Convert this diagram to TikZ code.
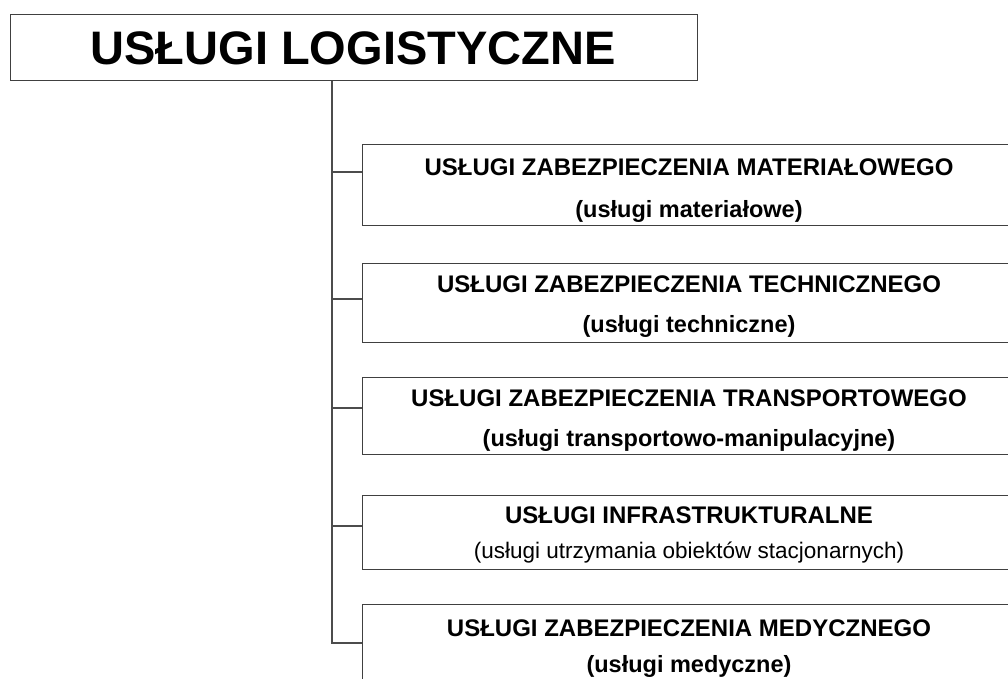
\documentclass[tikz,border=0pt]{standalone}
\usepackage{fontspec}
\setmainfont{Liberation Sans}
\begin{document}
\begin{tikzpicture}[x=1pt,y=-1pt,
  frame/.style={draw=black!75,line width=1.2pt,fill=white,rectangle,inner sep=0pt,anchor=north west},
  link/.style={draw=black!70,line width=1.2pt},
  maintxt/.style={anchor=base,inner sep=0pt,font=\bfseries\fontsize{47}{50}\selectfont},
  headtxt/.style={anchor=base,inner sep=0pt,font=\bfseries\fontsize{24}{26}\selectfont},
  subtxt/.style={anchor=base,inner sep=0pt,font=\bfseries\fontsize{23.5}{26}\selectfont},
  smalltxt/.style={anchor=base,inner sep=0pt,font=\fontsize{22.5}{24}\selectfont}]
\useasboundingbox (0,0) rectangle (1008,678);
\clip (0,0) rectangle (1008,678);
\fill[white] (0,0) rectangle (1008,678);
% top box
\node[frame,minimum width=687pt,minimum height=66pt] (top) at (10,14) {};
\node[maintxt] (toptxt) at (353,64) {USŁUGI LOGISTYCZNE};
% boxes
\node[frame,minimum width=654pt,minimum height=81pt] (b1) at (362,144) {};
\node[frame,minimum width=654pt,minimum height=79pt] (b2) at (362,263) {};
\node[frame,minimum width=654pt,minimum height=77pt] (b3) at (362,377) {};
\node[frame,minimum width=654pt,minimum height=74pt] (b4) at (362,495) {};
\node[frame,minimum width=654pt,minimum height=100pt] (b5) at (362,604) {};
% texts
\node[headtxt] (b1h) at (689,175) {USŁUGI ZABEZPIECZENIA MATERIAŁOWEGO};
\node[subtxt] (b1s) at (689,217) {(usługi materiałowe)};
\node[headtxt] (b2h) at (689,292) {USŁUGI ZABEZPIECZENIA TECHNICZNEGO};
\node[subtxt] (b2s) at (689,332) {(usługi techniczne)};
\node[headtxt] (b3h) at (689,406) {USŁUGI ZABEZPIECZENIA TRANSPORTOWEGO};
\node[subtxt] (b3s) at (689,446) {(usługi transportowo-manipulacyjne)};
\node[headtxt] (b4h) at (689,523) {USŁUGI INFRASTRUKTURALNE};
\node[smalltxt] (b4s) at (689,558) {(usługi utrzymania obiektów stacjonarnych)};
\node[headtxt] (b5h) at (689,636) {USŁUGI ZABEZPIECZENIA MEDYCZNEGO};
\node[subtxt] (b5s) at (689,672) {(usługi medyczne)};
% connectors
\coordinate (j1) at (332,172);
\coordinate (j2) at (332,299);
\coordinate (j3) at (332,408);
\coordinate (j4) at (332,526);
\coordinate (j5) at (332,643);
\draw[link] (top.south -| j1) -- (j5) -- (j5 -| b5.west);
\draw[link] (j1) -- (j1 -| b1.west);
\draw[link] (j2) -- (j2 -| b2.west);
\draw[link] (j3) -- (j3 -| b3.west);
\draw[link] (j4) -- (j4 -| b4.west);
\end{tikzpicture}
\end{document}
